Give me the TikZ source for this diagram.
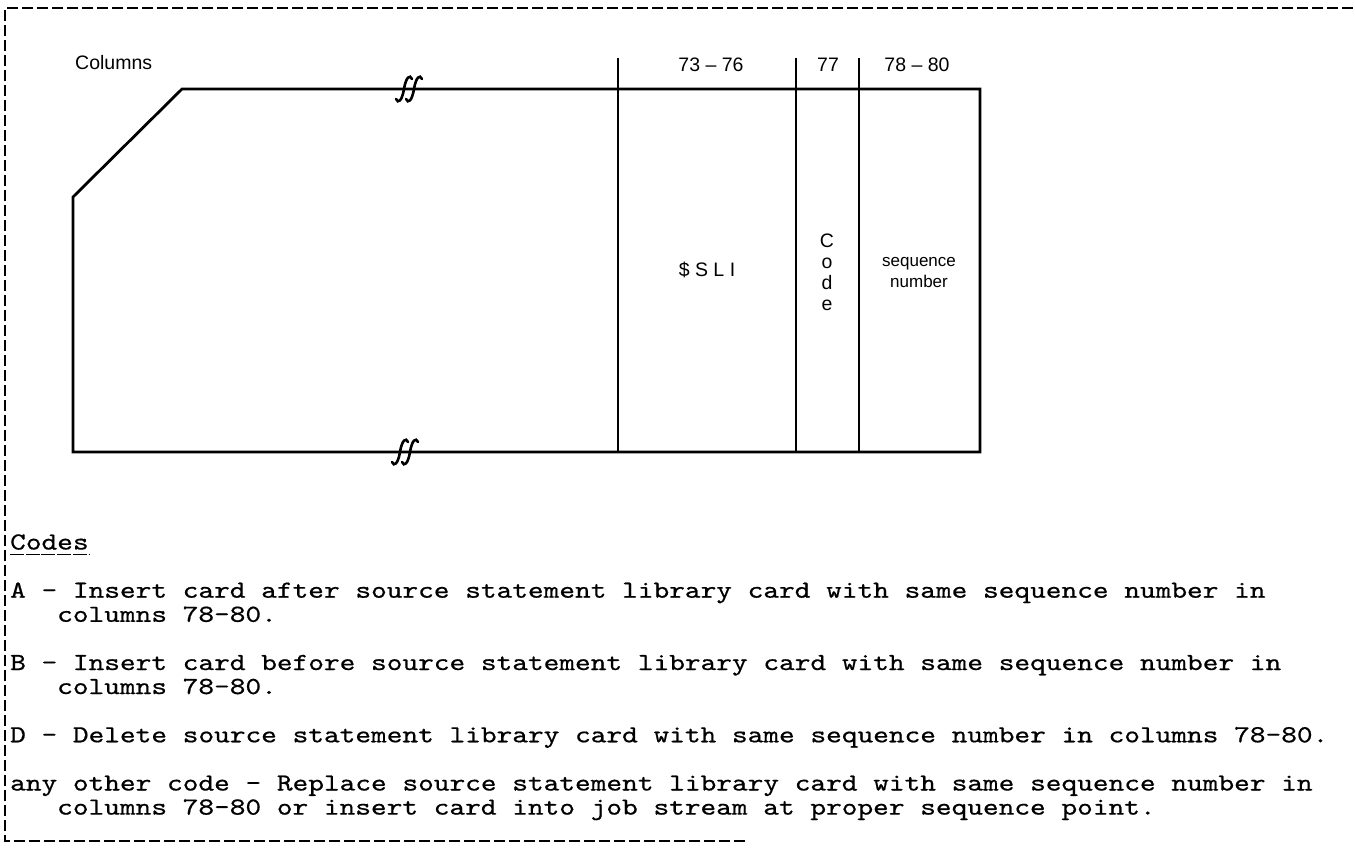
\documentclass[tikz,border=0pt]{standalone}
\usepackage{fontspec}
\setsansfont{Liberation Sans}
\newfontfamily\typewriter[FakeStretch=1.22, FakeBold=0.6]{lmmono10-regular.otf}
\newcommand{\cardfont}{\sffamily\fontsize{19.5}{21}\selectfont}
\newcommand{\seqfont}{\sffamily\fontsize{17}{21}\selectfont}
\newcommand{\typefont}{\typewriter\fontsize{24.5}{24}\selectfont}

\begin{document}
\begin{tikzpicture}[x=1pt, y=-1pt,
    outline/.style={line width=2.8pt, line join=miter},
    divider/.style={line width=1.8pt},
    frame/.style={line width=1.6pt, dash pattern=on 11pt off 4pt},
    lbl/.style={inner sep=0pt, font=\cardfont},
    typed/.style={inner sep=0pt, anchor=base west, font=\typefont}]
    \useasboundingbox (0,0) rectangle (1355,848);

    \coordinate (TL) at (182,89);
    \coordinate (TR) at (980,89);
    \coordinate (BR) at (980,452);
    \coordinate (BL) at (73,452);
    \coordinate (CL) at (73,197);
    \coordinate (F1) at (1353,8);
    \coordinate (F2) at (5,8);
    \coordinate (F3) at (5,841);
    \coordinate (F4) at (745,841);

    % dashed frame
    \draw[frame] (F1) -- (F2) -- (F3) -- (F4);

    % card
    \draw[outline] (TL) -- (TR) -- (BR) -- (BL) -- (CL) -- cycle;
    \foreach \x in {618, 796, 859}
    \draw[divider] (\x,58) -- (\x,452);

    % break marks
    \foreach \bx/\by in {404/89, 414/89, 400/452, 410/452}
    \draw[line width=2.6pt, line cap=round] (\bx-8,\by+10) .. controls (\bx-6,\by+15) and (\bx-2,\by+12) .. (\bx,\by)
        .. controls (\bx+2,\by-12) and (\bx+6,\by-15) .. (\bx+8,\by-10);

    \node[lbl, anchor=base west] (columns) at (75,70) {Columns};
    \node[lbl, anchor=base] (c7376) at (711,72) {73 \textendash{} 76};
    \node[lbl, anchor=base] (c77) at (828,72) {77};
    \node[lbl, anchor=base] (c7880) at (917,72) {78 \textendash{} 80};
    \node[lbl] (sli) at (707,270) {\$ S L I};
    \node[lbl, align=center] (code) at (827,272) {C\\o\\d\\e};
    \node[lbl, align=center, font=\seqfont] (seqno) at (919,273) {sequence\\number};

    % code list
    \node[typed] (codes) at (10,549.5) {Codes};
    \draw[line width=1.3pt, dash pattern=on 14pt off 1.7pt] ([yshift=-5pt]codes.base west) -- ([yshift=-5pt]codes.base east);
    \node[typed] (codeA) at (10,597.7) {A - Insert card after source statement library card with same sequence number in};
    \node[typed] (codeA2) at (57,621.8) {columns 78-80.};
    \node[typed] (codeB) at (10,670) {B - Insert card before source statement library card with same sequence number in};
    \node[typed] (codeB2) at (57,694) {columns 78-80.};
    \node[typed] (codeD) at (10,742.3) {D - Delete source statement library card with same sequence number in columns 78-80.};
    \node[typed] (codeX) at (10,790.5) {any other code - Replace source statement library card with same sequence number in};
    \node[typed] (codeX2) at (57,814.6) {columns 78-80 or insert card into job stream at proper sequence point.};
\end{tikzpicture}
\end{document}
